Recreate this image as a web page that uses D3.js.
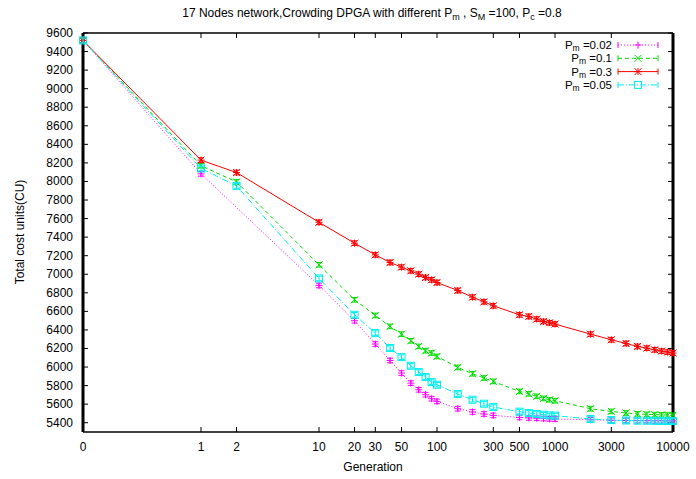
<!DOCTYPE html>
<html>
<head>
<meta charset="utf-8">
<script src="https://cdn.jsdelivr.net/npm/d3@7"></script>
<style>
  body { margin: 0; background: #fff; }
  text { font-family: "Liberation Sans", Arial, sans-serif; }
</style>
</head>
<body>
<div id="chart"></div>
<script>
// generations (0 is drawn at 0.1 on the log axis)
const gens = [0, 1, 2, 10, 20, 30, 40, 50, 60, 70, 80, 90, 100, 150, 200, 250, 300,
    500, 600, 700, 800, 900, 1000, 2000, 3000, 4000, 5000, 6000, 7000, 8000, 9000, 10000];
// Pm=0.02 has no point at generation 2
const gensPm002 = gens.filter(g => g !== 2);

const pm002 = [9520, 8082, 6879, 6499, 6248, 6071, 5935, 5827, 5755, 5702, 5659, 5630, 5551, 5516, 5494, 5479,
    5457, 5452, 5448, 5445, 5442, 5440, 5432, 5426, 5424, 5423, 5422, 5421, 5421, 5420, 5420];
const pm01 = [9520, 8170, 7995, 7102, 6725, 6556, 6438, 6355, 6283, 6222, 6176, 6151, 6114, 5996, 5928, 5882, 5845,
    5737, 5712, 5684, 5662, 5648, 5637, 5551, 5522, 5505, 5495, 5490, 5487, 5484, 5482, 5480];
const pm03 = [9520, 8230, 8096, 7560, 7335, 7209, 7127, 7077, 7037, 7001, 6965, 6940, 6911, 6825, 6753, 6703, 6660,
    6563, 6545, 6517, 6491, 6477, 6463, 6355, 6294, 6254, 6222, 6204, 6186, 6172, 6161, 6151];
const pm005 = [9520, 8140, 7952, 6955, 6563, 6366, 6205, 6107, 6014, 5946, 5892, 5838, 5809, 5709, 5648, 5605, 5569,
    5519, 5505, 5494, 5486, 5479, 5476, 5440, 5429, 5424, 5422, 5421, 5420, 5419, 5419, 5418];

const xTicks = [0, 1, 2, 10, 20, 30, 50, 100, 300, 500, 1000, 3000, 10000];
const yTicks = d3.range(5400, 9601, 200);
const legendLabels = ["0.02", "0.1", "0.3", "0.05"];
const errSize = 25;

const W = 696, H = 479;
const margin = { top: 33, right: 23, bottom: 47, left: 83 };
const width = W - margin.left - margin.right,
    height = H - margin.top - margin.bottom;

const svg = d3.select("#chart").append("svg")
    .attr("width", W).attr("height", H);

const g = svg.append("g")
    .attr("transform", `translate(${margin.left},${margin.top})`);

const gx = v => (v === 0 ? 0.1 : v);
const x = d3.scaleLog().domain([0.1, 10000]).range([0, width]);
const y = d3.scaleLinear().domain([5300, 9600]).range([height, 0]);

// ticks on all four sides, pointing inward
const tickLen = 5;
xTicks.forEach(t => {
    const px = x(gx(t));
    g.append("line").attr("x1", px).attr("x2", px).attr("y1", height).attr("y2", height - tickLen)
        .attr("stroke", "#000").attr("stroke-width", 1);
    g.append("line").attr("x1", px).attr("x2", px).attr("y1", 0).attr("y2", tickLen)
        .attr("stroke", "#000").attr("stroke-width", 1);
    g.append("text").attr("x", px).attr("y", height + 19)
        .attr("text-anchor", "middle").style("font-size", "12px").text(t);
});
yTicks.forEach(t => {
    const py = y(t);
    g.append("line").attr("x1", 0).attr("x2", tickLen).attr("y1", py).attr("y2", py)
        .attr("stroke", "#000").attr("stroke-width", 1);
    g.append("line").attr("x1", width).attr("x2", width - tickLen).attr("y1", py).attr("y2", py)
        .attr("stroke", "#000").attr("stroke-width", 1);
    g.append("text").attr("x", -10).attr("y", py + 4)
        .attr("text-anchor", "end").style("font-size", "12px").text(t);
});

// border: thick sides, thin top/bottom
g.append("line").attr("x1", 0).attr("x2", width).attr("y1", 0).attr("y2", 0).attr("stroke", "#000").attr("stroke-width", 1.5);
g.append("line").attr("x1", 0).attr("x2", width).attr("y1", height).attr("y2", height).attr("stroke", "#000").attr("stroke-width", 1.5);
g.append("line").attr("x1", 0).attr("x2", 0).attr("y1", 0).attr("y2", height).attr("stroke", "#000").attr("stroke-width", 3);
g.append("line").attr("x1", width).attr("x2", width).attr("y1", 0).attr("y2", height).attr("stroke", "#000").attr("stroke-width", 3);

const series = [
    { xs: gensPm002, ys: pm002, color: "#ff00ff", dash: "1,2", marker: "plus" },
    { xs: gens, ys: pm01, color: "#00dd00", dash: "4,3", marker: "cross" },
    { xs: gens, ys: pm03, color: "#ff0000", dash: null, marker: "star" },
    { xs: gens, ys: pm005, color: "#00eeee", dash: "6,2,1,2", marker: "square" }
];

function drawMarker(sel, type, color) {
    const s = 3.5;
    if (type === "plus" || type === "star") {
        sel.append("line").attr("x1", -s).attr("x2", s).attr("y1", 0).attr("y2", 0).attr("stroke", color);
        sel.append("line").attr("x1", 0).attr("x2", 0).attr("y1", -s).attr("y2", s).attr("stroke", color);
    }
    if (type === "cross" || type === "star") {
        sel.append("line").attr("x1", -s).attr("x2", s).attr("y1", -s).attr("y2", s).attr("stroke", color);
        sel.append("line").attr("x1", -s).attr("x2", s).attr("y1", s).attr("y2", -s).attr("stroke", color);
    }
    if (type === "square") {
        sel.append("rect").attr("x", -s).attr("y", -s).attr("width", 2 * s).attr("height", 2 * s)
            .attr("fill", "none").attr("stroke", color);
    }
}

const line = d3.line().x(d => x(gx(d[0]))).y(d => y(d[1]));

series.forEach(s => {
    const pts = s.xs.map((v, i) => [v, s.ys[i]]);
    g.append("path").datum(pts)
        .attr("d", line)
        .attr("fill", "none")
        .attr("stroke", s.color)
        .attr("stroke-width", 1)
        .attr("stroke-dasharray", s.dash);

    pts.forEach(p => {
        const px = x(gx(p[0])), py = y(p[1]);
        const top = y(p[1] + errSize), bot = y(p[1] - errSize);
        g.append("line").attr("x1", px).attr("x2", px).attr("y1", top).attr("y2", bot).attr("stroke", s.color);
        g.append("line").attr("x1", px - 3).attr("x2", px + 3).attr("y1", top).attr("y2", top).attr("stroke", s.color);
        g.append("line").attr("x1", px - 3).attr("x2", px + 3).attr("y1", bot).attr("y2", bot).attr("stroke", s.color);
        drawMarker(g.append("g").attr("transform", `translate(${px},${py})`), s.marker, s.color);
    });
});

// legend
const legend = svg.append("g");
series.forEach((s, i) => {
    const ly = 45 + i * 13.3;
    const t = legend.append("text").attr("x", 612).attr("y", ly + 4)
        .attr("text-anchor", "end").style("font-size", "11.5px");
    t.append("tspan").text("P");
    t.append("tspan").attr("dy", 2).style("font-size", "8.5px").text("m");
    t.append("tspan").attr("dy", -2).text(" =" + legendLabels[i]);

    legend.append("line").attr("x1", 618).attr("x2", 658).attr("y1", ly).attr("y2", ly)
        .attr("stroke", s.color).attr("stroke-dasharray", s.dash);
    legend.append("line").attr("x1", 618).attr("x2", 618).attr("y1", ly - 3).attr("y2", ly + 3).attr("stroke", s.color);
    legend.append("line").attr("x1", 658).attr("x2", 658).attr("y1", ly - 3).attr("y2", ly + 3).attr("stroke", s.color);
    drawMarker(legend.append("g").attr("transform", `translate(638,${ly})`), s.marker, s.color);
});

// title
const title = svg.append("text").attr("x", 372).attr("y", 17)
    .attr("text-anchor", "middle").style("font-size", "12px");
title.append("tspan").text("17 Nodes network,Crowding DPGA with different P");
title.append("tspan").attr("dy", 3).style("font-size", "9px").text("m");
title.append("tspan").attr("dy", -3).text(" , S");
title.append("tspan").attr("dy", 3).style("font-size", "9px").text("M");
title.append("tspan").attr("dy", -3).text(" =100, P");
title.append("tspan").attr("dy", 3).style("font-size", "9px").text("c");
title.append("tspan").attr("dy", -3).text(" =0.8");

// axis labels
svg.append("text").attr("x", 373).attr("y", 471)
    .attr("text-anchor", "middle").style("font-size", "12px").text("Generation");
svg.append("text").attr("transform", "rotate(-90)")
    .attr("x", -232).attr("y", 24)
    .attr("text-anchor", "middle").style("font-size", "12px").text("Total cost units(CU)");
</script>
</body>
</html>
